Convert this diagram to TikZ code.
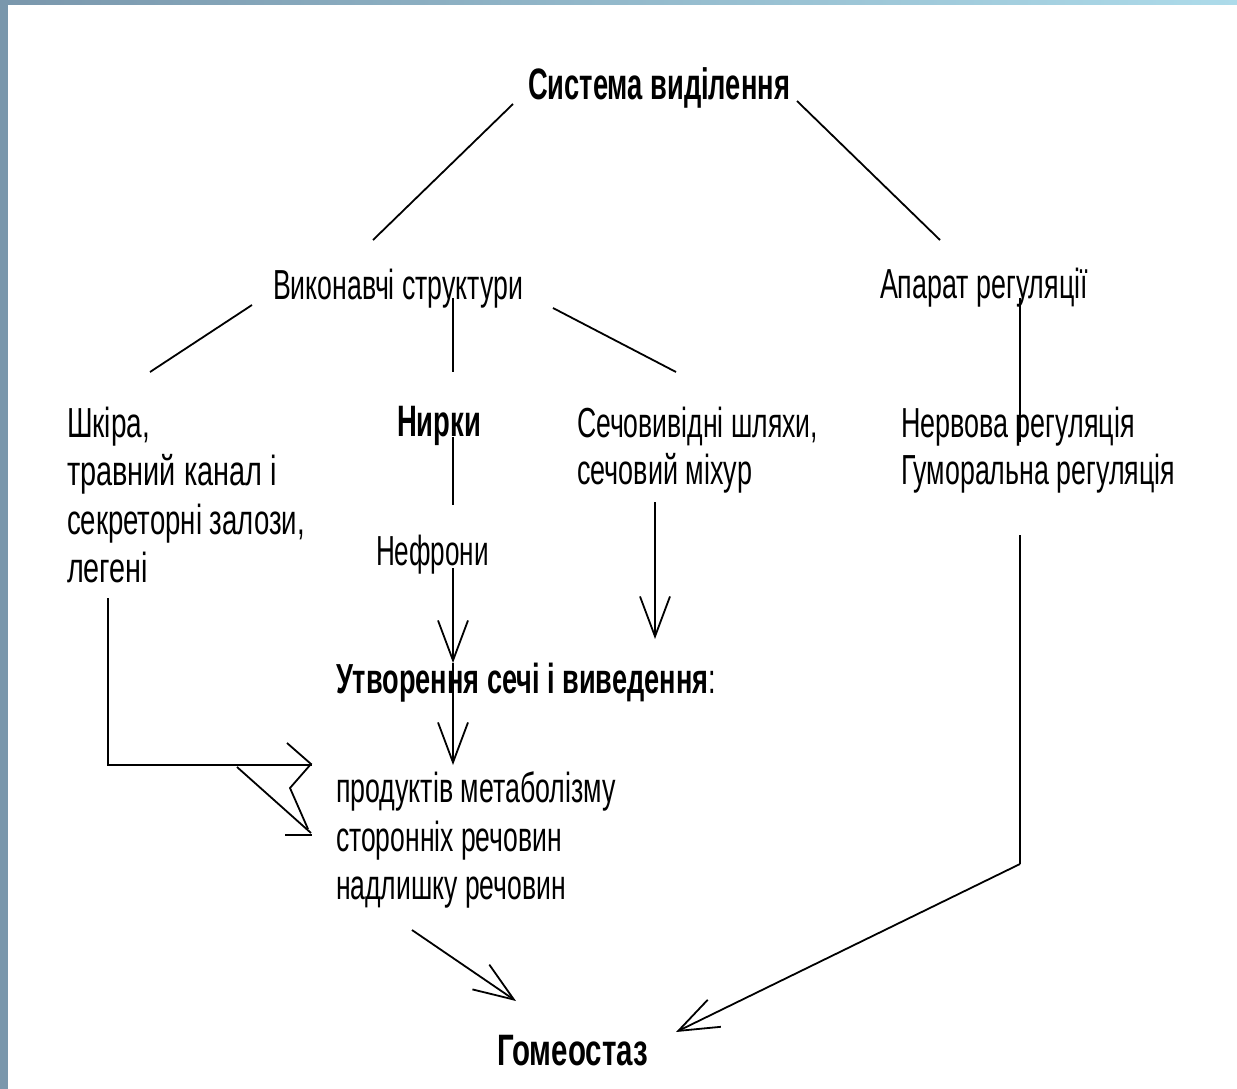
\documentclass[tikz,border=0pt]{standalone}
\usepackage{fontspec}
\setmainfont{Liberation Sans}
\usetikzlibrary{arrows.meta}
\newsavebox\fitbox
\newcommand\fitw[2]{\sbox\fitbox{#2}\pgfmathsetmacro\fitsx{#1/\the\wd\fitbox}\scalebox{\fitsx}[1]{\usebox\fitbox}}
\definecolor{barL}{HTML}{7A97AC}
\definecolor{barM}{HTML}{95BDD0}
\definecolor{barR}{HTML}{ADDBEA}
\tikzset{
  lbl/.style={inner sep=0pt, outer sep=0pt, anchor=base west, font=\fontsize{42}{48}\selectfont},
  blbl/.style={lbl, font=\fontsize{44}{50}\selectfont\bfseries},
  conn/.style={line width=1.8pt, line cap=butt, line join=miter},
  thickconn/.style={line width=2.8pt, line cap=butt, line join=miter},
  arr/.style={conn, -{Straight Barb[length=40pt,width=30pt,line width=1.8pt]}},
}
\begin{document}
\begin{tikzpicture}[x=1pt,y=-1pt]
\useasboundingbox (0,0) rectangle (1237,1089);
\fill[white] (0,0) rectangle (1237,1089);
\shade[left color=barL, middle color=barM, right color=barR] (0,0) rectangle (1237,5);
\fill[barL] (0,0) rectangle (8,1089);

% texts
\node[blbl] (sys) at (528,100) {\fitw{262}{Система виділення}};
\node[lbl] (vyk) at (273,299) {\fitw{250}{Виконавчі структури}};
\node[lbl] (apar) at (880,298) {\fitw{208}{Апарат регуляції}};
\node[lbl] (sk1) at (67,437) {\fitw{83}{Шкіра,}};
\node[lbl] (sk2) at (67,485) {\fitw{210}{травний канал і}};
\node[lbl] (sk3) at (67,534) {\fitw{238}{секреторні залози,}};
\node[lbl] (sk4) at (67,582) {\fitw{81}{легені}};
\node[blbl] (nyr) at (397,436) {\fitw{84}{Нирки}};
\node[lbl] (nef) at (376,565) {\fitw{113}{Нефрони}};
\node[lbl] (sec1) at (577,437) {\fitw{241}{Сечовивідні шляхи,}};
\node[lbl] (sec2) at (577,484) {\fitw{175}{сечовий міхур}};
\node[lbl] (ner1) at (901,437) {\fitw{234}{Нервова регуляція}};
\node[lbl] (ner2) at (901,484) {\fitw{274}{Гуморальна регуляція}};
\node[lbl] (utv) at (336,693) {\fitw{380}{{\bfseries Утворення сечі і виведення}:}};
\node[lbl] (pr1) at (336,802) {\fitw{280}{продуктів метаболізму}};
\node[lbl] (pr2) at (336,851) {\fitw{226}{сторонніх речовин}};
\node[lbl] (pr3) at (336,899) {\fitw{230}{надлишку речовин}};
\node[blbl] (hom) at (497,1065) {\fitw{151}{Гомеостаз}};

% connector end points
\coordinate (a1) at (513,104);  \coordinate (a2) at (373,240);
\coordinate (b1) at (797,101);  \coordinate (b2) at (940,240);
\coordinate (c1) at (252,305);  \coordinate (c2) at (150,372);
\coordinate (d1) at (453,298);  \coordinate (d2) at (453,372);
\coordinate (e1) at (553,308);  \coordinate (e2) at (676,372);
\coordinate (f1) at (1020,298); \coordinate (f2) at (1020,442);
\coordinate (g1) at (453,437);  \coordinate (g2) at (453,505);
\coordinate (h1) at (453,568);  \coordinate (h2) at (453,663);  \coordinate (h3) at (453,765);
\coordinate (k1) at (655,502);  \coordinate (k2) at (655,639);
\coordinate (m1) at (108,598);  \coordinate (m2) at (108,765);  \coordinate (m3) at (312,765);
\coordinate (n1) at (1020,535); \coordinate (n2) at (1020,864); \coordinate (n3) at (676,1032);
\coordinate (p1) at (412,930);  \coordinate (p2) at (516,1001);

% connectors
\draw[conn] (a1) -- (a2);
\draw[conn] (b1) -- (b2);
\draw[conn] (c1) -- (c2);
\draw[conn] (d1) -- (d2);
\draw[conn] (e1) -- (e2);
\draw[conn] (f1) -- (f2);
\draw[conn] (g1) -- (g2);
\draw[arr] (h1) -- (h2);
\draw[arr] (h2) -- (h3);
\draw[arr] (k1) -- (k2);
\draw[thickconn] (m1) -- (m2) -- (m3);
\draw[conn] (287,743) -- (311,764) -- (290,788) -- (308,829);
\draw[conn] (237,767) -- (311,833);
\draw[thickconn] (285,835) -- (312,835);
\draw[conn] (n1) -- (n2);
\draw[arr] (n2) -- (n3);
\draw[arr] (p1) -- (p2);
\end{tikzpicture}
\end{document}
